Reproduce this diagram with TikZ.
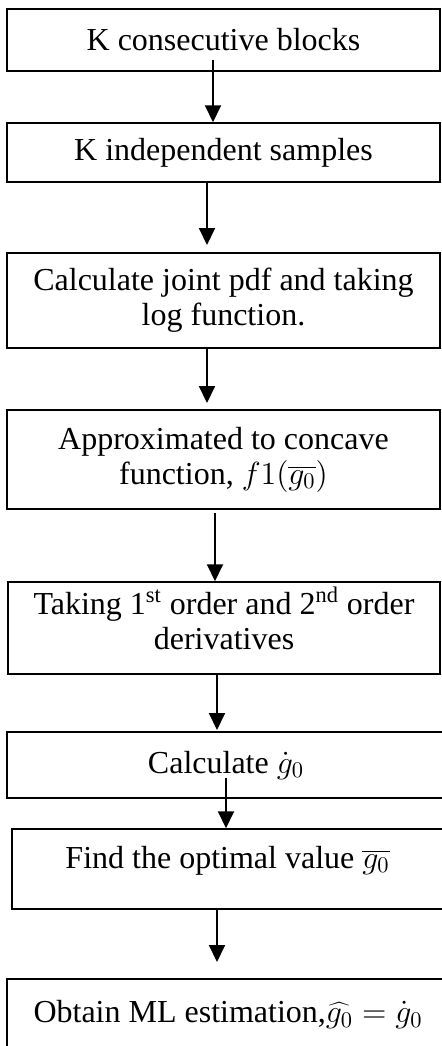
\RequirePackage{fix-cm}
\documentclass[tikz,border=0pt]{standalone}
\usepackage{fontspec}
\setmainfont{Liberation Serif}
\usetikzlibrary{arrows.meta}
\tikzset{
  stepbox/.style={draw, line width=0.75pt, inner sep=0pt, align=center,
    font=\fontsize{16pt}{17.5pt}\selectfont},
  arr/.style={line width=1pt, -{Triangle[length=8.5pt, width=8pt]}}
}
\begin{document}
\begin{tikzpicture}[x=0.5pt, y=-0.5pt]
\clip (0,0) rectangle (442,1046);
\node[stepbox, minimum width=216.5pt, minimum height=31pt] (b1) at (223.5,40) {K consecutive blocks};
\node[stepbox, minimum width=216.5pt, minimum height=29.5pt] (b2) at (223.5,152.5) {K independent samples};
\node[stepbox, minimum width=216.5pt, minimum height=47.5pt] (b3) at (223.5,300.5) {Calculate joint pdf and taking\\log function.};
\node[stepbox, minimum width=216.5pt, minimum height=49.5pt] (b4) at (223.5,459.5) {Approximated to concave\\function, $f1(\overline{g_0})$};
\node[stepbox, minimum width=216pt, minimum height=46pt, text depth=9.5pt] (b5) at (224,628) {Taking 1\textsuperscript{st} order and 2\textsuperscript{nd} order\\derivatives};
\node[stepbox, minimum width=219pt, minimum height=33pt] (b6) at (226,765) {Calculate $\dot{g}_0$};
\node[stepbox, minimum width=215.5pt, minimum height=40pt, text height=11pt, text depth=12pt] (b7) at (227.5,869) {Find the optimal value $\overline{g_0}$};
\node[stepbox, minimum width=221pt, minimum height=35.5pt] (b8) at (228,1014.5) {Obtain ML estimation,$\widehat{g_0} = \dot{g}_0$};
\coordinate (s1) at (213,60);   \coordinate (t1) at (213,122);
\coordinate (t2) at (207,245);
\coordinate (t3) at (207,403);
\coordinate (s4) at (215,513);  \coordinate (t4) at (215,580);
\coordinate (t5) at (217,730);
\coordinate (s6) at (226,778);  \coordinate (t6) at (226,828);
\coordinate (t7) at (217,962);
\draw[arr] (s1) -- (b2.north -| t1);
\draw[arr] (b2.south -| t2) -- (t2);
\draw[arr] (b3.south -| t3) -- (t3);
\draw[arr] (s4) -- (b5.north -| t4);
\draw[arr] (b5.south -| t5) -- (t5);
\draw[arr] (s6) -- (b7.north -| t6);
\draw[arr] (b7.south -| t7) -- (t7);
\end{tikzpicture}
\end{document}
